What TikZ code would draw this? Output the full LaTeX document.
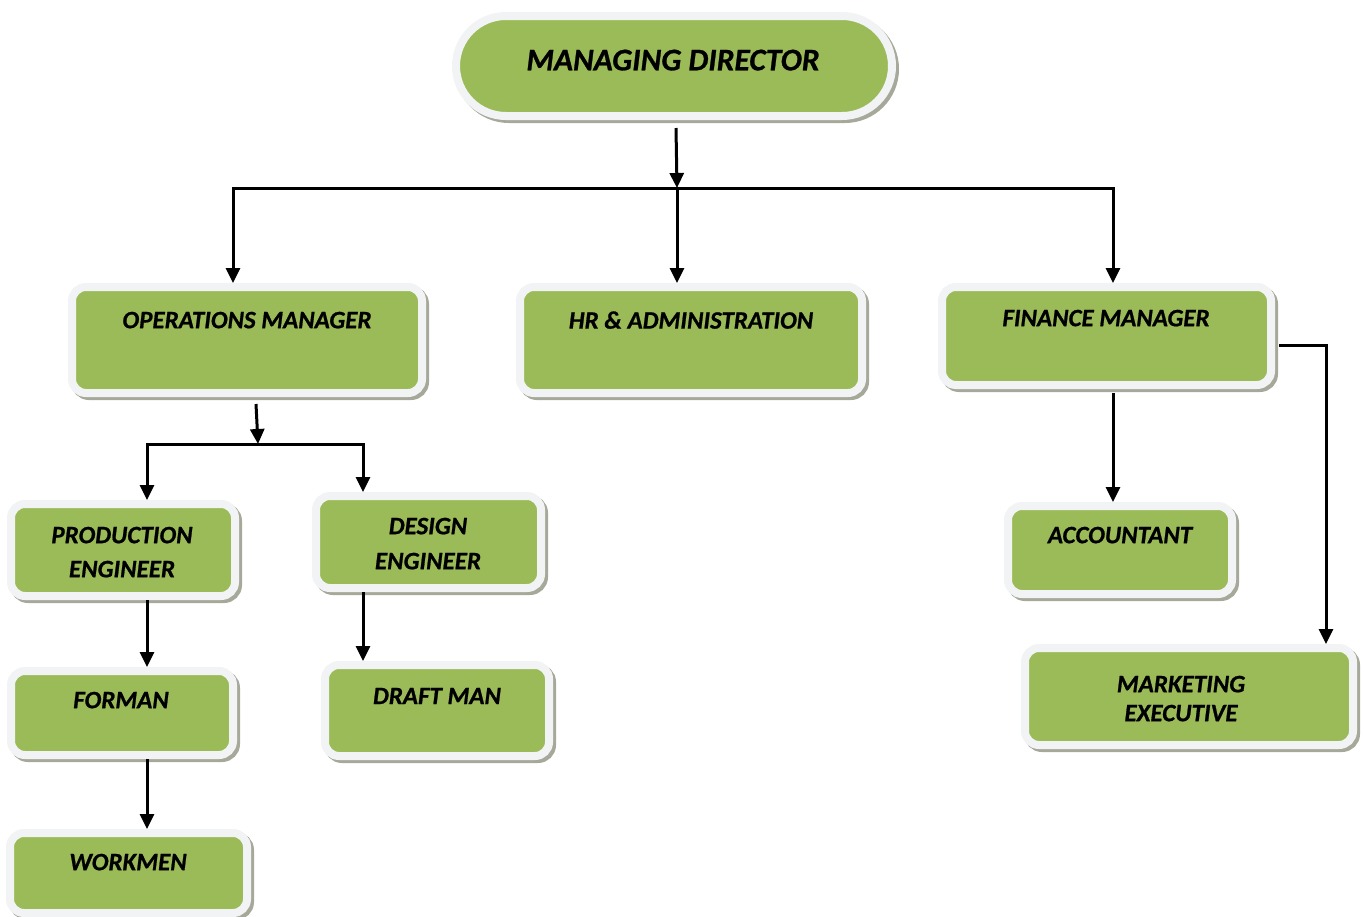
\documentclass[tikz,border=0pt]{standalone}
\usepackage{fontspec}
\setmainfont{Carlito}[BoldItalicFeatures={FakeBold=0.8}]
\usetikzlibrary{arrows.meta}
\definecolor{boxgreen}{HTML}{9BBB59}
\definecolor{boxrim}{HTML}{F2F3F4}
\definecolor{boxshadow}{HTML}{A6A99A}
\tikzset{
  orgbox/.style={draw=boxrim, fill=boxgreen, line width=8pt, rounded corners=14pt,
    inner sep=0pt,
    preaction={draw=boxshadow, fill=boxshadow, line width=8pt,
      transform canvas={shift={(3pt,-3pt)}}}},
  lbl/.style={font=\fontsize{25}{34}\selectfont\bfseries\itshape, align=center,
    inner sep=0pt, text depth=0pt},
  conn/.style={line width=3pt, -{Triangle[length=15pt,width=14pt]}}
}
\begin{document}
\begin{tikzpicture}[x=1pt,y=-1pt]
\useasboundingbox (0,0) rectangle (1364,916);

% boxes
\node[orgbox, rounded corners=50pt, minimum width=436pt, minimum height=100pt] (md) at (674,66) {};
\node[orgbox, minimum width=350pt, minimum height=106pt] (ops) at (247,340) {};
\node[orgbox, minimum width=342pt, minimum height=106pt] (hr) at (691,340) {};
\node[orgbox, minimum width=329pt, minimum height=98pt] (fin) at (1106.5,336) {};
\node[orgbox, minimum width=224pt, minimum height=92pt] (prod) at (123,550) {};
\node[orgbox, minimum width=225pt, minimum height=92pt] (des) at (428.5,542) {};
\node[orgbox, minimum width=222pt, minimum height=84pt] (form) at (122,713) {};
\node[orgbox, minimum width=224pt, minimum height=91pt] (draft) at (437,710.5) {};
\node[orgbox, minimum width=237pt, minimum height=80pt] (work) at (128.5,873) {};
\node[orgbox, minimum width=224pt, minimum height=88pt] (acc) at (1120,550) {};
\node[orgbox, minimum width=328pt, minimum height=97pt] (mkt) at (1189,696.5) {};

% labels
\node[lbl, font=\fontsize{31.5}{36}\selectfont\bfseries\itshape] (tmd) at (673,60) {MANAGING DIRECTOR};
\node[lbl] (tops) at (247,320) {OPERATIONS MANAGER};
\node[lbl] (thr) at (691,320) {HR \& ADMINISTRATION};
\node[lbl] (tfin) at (1106,318) {FINANCE MANAGER};
\node[lbl] (tprod) at (122,552) {PRODUCTION\\ENGINEER};
\node[lbl, font=\fontsize{25}{35}\selectfont\bfseries\itshape] (tdes) at (428,543.5) {DESIGN\\ENGINEER};
\node[lbl] (tform) at (121,700) {FORMAN};
\node[lbl] (tdraft) at (437,696) {DRAFT MAN};
\node[lbl] (twork) at (128,862) {WORKMEN};
\node[lbl] (tacc) at (1120,535) {ACCOUNTANT};
\node[lbl, font=\fontsize{25}{29}\selectfont\bfseries\itshape] (tmkt) at (1181,698.5) {MARKETING\\EXECUTIVE};

% junctions
\coordinate (bus) at (677,188);
\coordinate (bus2) at (258,444);

% connectors
\draw[conn] ([xshift=2pt,yshift=-8pt]md.south) -- (bus);
\draw[conn] (bus) -| ([xshift=-14pt]ops.north);
\draw[conn] (bus) -- (bus |- hr.north);
\draw[conn] (bus) -| ([xshift=6.5pt]fin.north);

\draw[conn] ([xshift=9pt,yshift=-7pt]ops.south) -- (bus2);
\draw[conn] (bus2) -| ([xshift=24pt]prod.north);
\draw[conn] (bus2) -| ([xshift=-65.5pt]des.north);

\draw[conn] ([xshift=24pt]prod.south) -- ([xshift=25pt]form.north);
\draw[conn] ([xshift=25pt]form.south) -- ([xshift=18.5pt]work.north);
\draw[conn] ([xshift=-65.5pt]des.south) -- ([xshift=-74pt]draft.north);

\draw[conn] ([xshift=6.5pt,yshift=-4pt]fin.south) -- ([xshift=-7pt]acc.north);
\draw[conn] ([xshift=4pt,yshift=-9pt]fin.east) -| ([xshift=137pt]mkt.north);
\end{tikzpicture}
\end{document}
